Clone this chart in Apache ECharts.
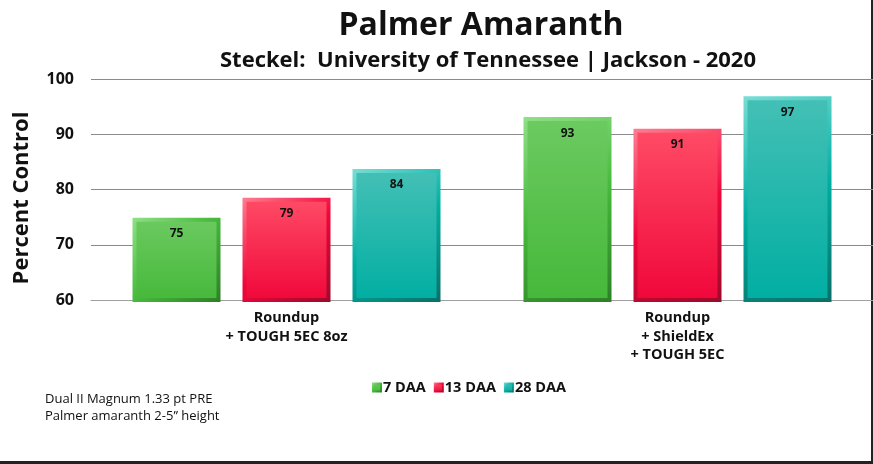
<!DOCTYPE html>
<html lang="en">
<head>
    <meta charset="utf-8">
    <title>Palmer Amaranth</title>
    <script src="https://cdn.jsdelivr.net/npm/echarts@6/dist/echarts.min.js"></script>
    <style>
        html, body {margin: 0; padding: 0; background: #fff;}
    </style>
</head>
<body>
<div id="chart" style="width: 873px;height:464px;"></div>
<script type="application/javascript">
    // data
    var categories = ['Roundup\n+ TOUGH 5EC 8oz', 'Roundup\n+ ShieldEx\n+ TOUGH 5EC'];
    var seriesNames = ['7 DAA', '13 DAA', '28 DAA'];
    var daa7 = [74.9, 93.1];
    var daa13 = [78.5, 91.0];
    var daa28 = [83.7, 96.9];
    var yTicks = [60, 70, 80, 90, 100];

    var font = '"Open Sans", Lato, sans-serif';

    // bevel-ish look: vertical gradient fill + diagonal gradient border
    function barStyle(top, bottom, edgeLight, edgeDark) {
        return {
            color: new echarts.graphic.LinearGradient(0, 0, 0, 1, [
                {offset: 0, color: top},
                {offset: 1, color: bottom}
            ]),
            borderColor: new echarts.graphic.LinearGradient(0, 0, 1, 1, [
                {offset: 0, color: edgeLight},
                {offset: 0.5, color: bottom},
                {offset: 1, color: edgeDark}
            ]),
            borderWidth: 4
        };
    }

    var styles = [
        barStyle('#6cca61', '#45b83a', '#8fe086', '#2e7f27'),
        barStyle('#ff4c66', '#f0063a', '#ff7d90', '#9a0a2a'),
        barStyle('#45c0b6', '#00aea2', '#78ded6', '#0a6f68')
    ];
    var legendColors = ['#4fbe43', '#f2264f', '#1db6ab'];
    var values = [daa7, daa13, daa28];

    var series = [];
    for (var i = 0; i < seriesNames.length; i++) {
        series.push({
            name: seriesNames[i],
            type: 'bar',
            data: values[i],
            barWidth: 88,
            barGap: '25%',
            itemStyle: styles[i],
            label: {
                show: true,
                position: 'insideTop',
                distance: 10,
                formatter: function (p) { return Math.round(p.value); },
                color: '#111',
                fontFamily: font,
                fontWeight: 'bold',
                fontSize: 12
            }
        });
    }

    var chart = echarts.init(document.getElementById('chart'));
    var option = {
        animation: false,
        color: legendColors,
        title: [{
            text: 'Palmer Amaranth',
            left: 476,
            top: 5,
            textAlign: 'center',
            textStyle: {fontFamily: font, fontSize: 32, fontWeight: 'bold', color: '#111'}
        }, {
            text: 'Steckel:  University of Tennessee | Jackson - 2020',
            left: 483,
            top: 45,
            textAlign: 'center',
            textStyle: {fontFamily: font, fontSize: 22, fontWeight: 'bold', color: '#111'}
        }],
        legend: {
            data: seriesNames,
            left: 367,
            top: 375,
            icon: 'rect',
            itemWidth: 8,
            itemHeight: 8,
            itemGap: 8,
            textStyle: {fontFamily: font, fontSize: 14.5, fontWeight: 'bold', color: '#111', padding: [0, 0, 0, -3]}
        },
        grid: {left: 91, top: 79, width: 790, height: 221, containLabel: false},
        xAxis: {
            type: 'category',
            data: categories,
            axisLine: {show: true, lineStyle: {color: '#a0a0a0'}},
            axisTick: {show: false},
            axisLabel: {
                margin: 9,
                fontFamily: font,
                fontSize: 14.5,
                fontWeight: 'bold',
                color: '#111',
                lineHeight: 18.5
            }
        },
        yAxis: {
            type: 'value',
            min: yTicks[0],
            max: yTicks[yTicks.length - 1],
            interval: 10,
            axisLine: {show: false},
            axisTick: {show: false},
            splitLine: {lineStyle: {color: '#8a8a8a'}},
            axisLabel: {
                margin: 17,
                fontFamily: font,
                fontSize: 16,
                fontWeight: 'bold',
                color: '#111'
            }
        },
        graphic: [{
            // y axis title
            type: 'text',
            x: 22,
            y: 198,
            rotation: Math.PI / 2,
            style: {
                text: 'Percent Control',
                font: 'bold 22px ' + font,
                fill: '#111',
                align: 'center',
                verticalAlign: 'middle'
            }
        }, {
            type: 'text',
            left: 45,
            top: 391,
            style: {
                text: 'Dual II Magnum 1.33 pt PRE\nPalmer amaranth 2-5\u201d height',
                font: '13px ' + font,
                lineHeight: 17,
                fill: '#111'
            }
        }, {
            type: 'rect',
            shape: {x: 0, y: 461, width: 873, height: 3},
            style: {fill: '#222'}
        }, {
            type: 'rect',
            shape: {x: 871, y: 0, width: 2, height: 462},
            style: {fill: '#222'}
        }],
        series: series
    };
    chart.setOption(option);
</script>
</body>
</html>
